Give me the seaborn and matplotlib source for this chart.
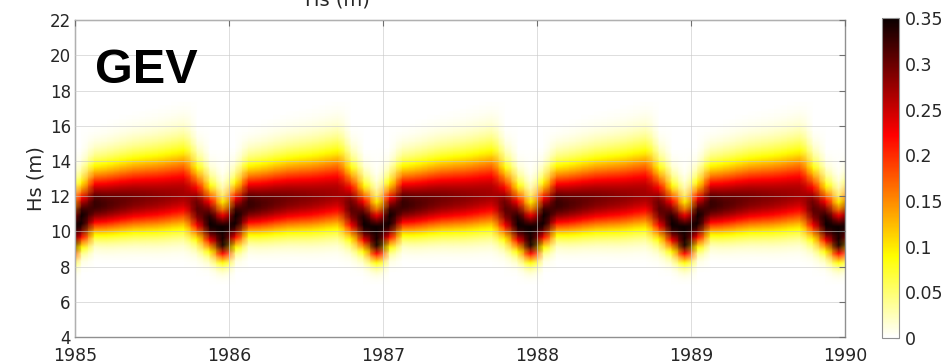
import numpy as np
import matplotlib
matplotlib.use("Agg")
import matplotlib.pyplot as plt
import seaborn as sns

# Monthly GEV parameters (same cycle every year)
months = np.arange(1, 13)
loc_month = [10.5, 11.3, 11.35, 11.45, 11.55, 11.6, 11.65, 11.75, 11.85, 11.1, 10.3, 9.55]
scale_month = [1.05, 1.15, 1.2, 1.24, 1.28, 1.31, 1.34, 1.37, 1.4, 1.22, 1.07, 0.95]
shape = -0.2
years = [1984, 1985, 1986, 1987, 1988, 1989, 1990]

hs_ticks = [4, 6, 8, 10, 12, 14, 16, 18, 20, 22]
year_ticks = [1985, 1986, 1987, 1988, 1989, 1990]
cbar_ticks = [0, 0.05, 0.1, 0.15, 0.2, 0.25, 0.3, 0.35]
cbar_labels = ["0", "0.05", "0.1", "0.15", "0.2", "0.25", "0.3", "0.35"]


def gev_pdf(x, mu, sigma, xi):
    z = (x - mu) / sigma
    arg = 1 + xi * z
    out = np.zeros_like(x)
    ok = arg > 0
    t = arg[ok] ** (-1.0 / xi)
    out[ok] = t ** (xi + 1) * np.exp(-t) / sigma
    return out


# mid-month nodes from Dec 1984 to Jan 1990
times, locs, scales = [], [], []
for y in years:
    for m in months:
        tt = y + (m - 0.5) / 12
        if 1984.9 < tt < 1990.1:
            times.append(tt)
            locs.append(loc_month[m - 1])
            scales.append(scale_month[m - 1])

hs = np.arange(4, 22.001, 0.05)
dens = np.column_stack([gev_pdf(hs, mu, s, shape) for mu, s in zip(locs, scales)])

sns.set_style("white")
plt.rcParams["font.family"] = ["DejaVu Sans"]
cmap = sns.color_palette("hot_r", as_cmap=True)

fig = plt.figure(figsize=(9.53, 3.63), dpi=100)
ax = fig.add_axes([0.0787, 0.0716, 0.808, 0.873])
cax = fig.add_axes([0.9255, 0.069, 0.018, 0.881])

mesh = ax.pcolormesh(times, hs, dens, shading="gouraud", cmap=cmap, vmin=0, vmax=0.35)
ax.set_xlim(1985, 1990)
ax.set_ylim(4, 22)
ax.set_xticks(year_ticks)
ax.set_yticks(hs_ticks)
ax.set_xticklabels([str(v) for v in year_ticks])
ax.grid(True, color="#c8c8c8", lw=0.7, alpha=0.6)
ax.set_axisbelow(False)
ax.tick_params(direction="in", top=True, right=True, length=4, color="#707070",
               labelcolor="#262626")
ax.tick_params(axis="y", labelsize=12, pad=3)
ax.tick_params(axis="x", labelsize=12.5, pad=7)
for sp in ax.spines.values():
    sp.set_color("#909090")
    sp.set_linewidth(1.0)
ax.set_ylabel("Hs (m)", fontsize=14, color="#262626", labelpad=3)

ax.text(0.026, 0.8, "GEV", transform=ax.transAxes, fontsize=35, fontweight="bold",
        family=["Liberation Sans", "DejaVu Sans"], color="black", va="baseline")
fig.text(0.354, 1 - 6 / 363, "Hs (m)", fontsize=14, color="#262626", ha="center", va="baseline")

cb = fig.colorbar(mesh, cax=cax, ticks=cbar_ticks)
cb.ax.set_yticklabels(cbar_labels)
cb.ax.tick_params(direction="in", length=3, color="#707070", labelsize=12.5,
                  labelcolor="#262626", pad=4)
cb.outline.set_edgecolor("#909090")

fig.savefig("out.png", dpi=100)
